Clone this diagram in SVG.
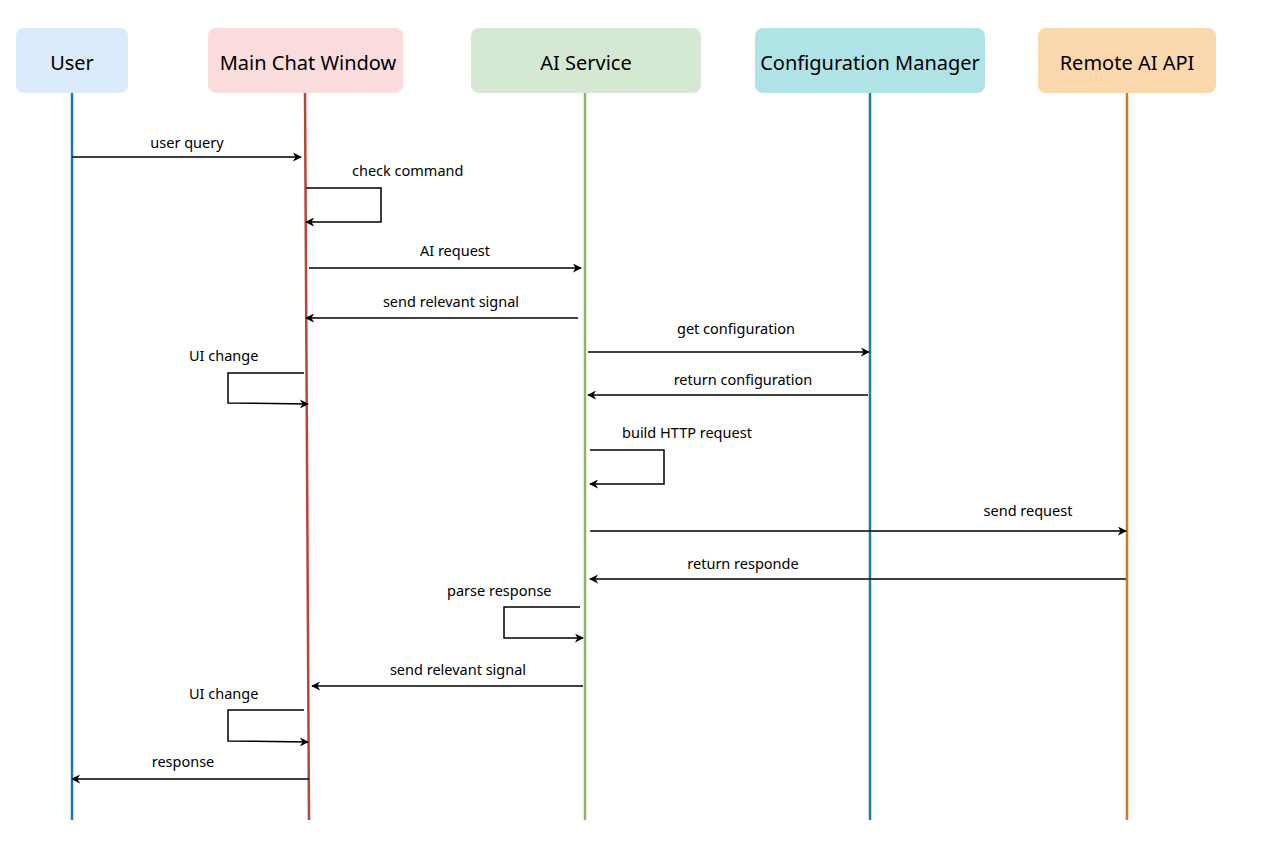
<svg xmlns="http://www.w3.org/2000/svg" width="1266" height="850" viewBox="0 0 1266 850">
<style>
.box{stroke:none}
.title{font-family:"Noto Sans","DejaVu Sans",sans-serif;font-size:20px;fill:#000;text-anchor:middle}
.lbl{font-family:"Noto Sans","DejaVu Sans",sans-serif;font-size:14.5px;fill:#000}
.msg{fill:none;stroke:#000;stroke-width:1.5;marker-end:url(#ah)}
.life{fill:none;stroke-width:2.5}
</style>
<defs>
<marker id="ah" viewBox="0 0 10 10" refX="9" refY="5" markerWidth="9" markerHeight="9" markerUnits="userSpaceOnUse" orient="auto">
<path d="M0,0 L10,5 L0,10 L3,5 z" fill="#000"/>
</marker>
</defs>
<rect width="1266" height="850" fill="#fff"/>
<g id="user">
<rect class="box" x="16" y="28" width="112" height="65" rx="8" fill="#dcebfb"/>
<text class="title" x="72" y="70">User</text>
<line class="life" x1="72" y1="93" x2="72" y2="820" stroke="#1b75bc"/>
</g>
<g id="main-chat-window">
<rect class="box" x="208" y="28" width="195" height="65" rx="8" fill="#fadcdd"/>
<text class="title" x="308" y="70">Main Chat Window</text>
<line class="life" x1="305" y1="93" x2="309" y2="820" stroke="#b5463a"/>
</g>
<g id="ai-service">
<rect class="box" x="471" y="28" width="230" height="65" rx="8" fill="#d5e8d4"/>
<text class="title" x="586" y="70">AI Service</text>
<line class="life" x1="585" y1="93" x2="585" y2="820" stroke="#86b86a"/>
</g>
<g id="configuration-manager">
<rect class="box" x="755" y="28" width="230" height="65" rx="8" fill="#b0e3e6"/>
<text class="title" x="870" y="70">Configuration Manager</text>
<line class="life" x1="870" y1="93" x2="870" y2="820" stroke="#14829a"/>
</g>
<g id="remote-ai-api">
<rect class="box" x="1038" y="28" width="178" height="65" rx="8" fill="#fad7ac"/>
<text class="title" x="1127" y="70">Remote AI API</text>
<line class="life" x1="1127" y1="93" x2="1127" y2="820" stroke="#c97c24"/>
</g>
<g id="connectors">
<path class="msg" d="M72,157 L301,157"/>
<path class="msg" d="M306,188 L381,188 L381,222 L306,222"/>
<path class="msg" d="M309,268 L581,268"/>
<path class="msg" d="M578,318 L306,318"/>
<path class="msg" d="M588,352 L869,352"/>
<path class="msg" d="M868,395 L588,395"/>
<path class="msg" d="M304,373 L228,373 L228,403 L308,404"/>
<path class="msg" d="M590,450 L664,450 L664,484 L590,484"/>
<path class="msg" d="M590,531 L1126,531"/>
<path class="msg" d="M1126,579 L590,579"/>
<path class="msg" d="M580,607 L504,607 L504,638 L583,638"/>
<path class="msg" d="M583,686 L312,686"/>
<path class="msg" d="M304,710 L228,710 L228,741 L308,742"/>
<path class="msg" d="M309,779 L72,779"/>
</g>
<g id="labels">
<text class="lbl" x="187" y="148" text-anchor="middle">user query</text>
<text class="lbl" x="352" y="176">check command</text>
<text class="lbl" x="455" y="256" text-anchor="middle">AI request</text>
<text class="lbl" x="451" y="307" text-anchor="middle">send relevant signal</text>
<text class="lbl" x="736" y="334" text-anchor="middle">get configuration</text>
<text class="lbl" x="743" y="385" text-anchor="middle">return configuration</text>
<text class="lbl" x="189" y="361">UI change</text>
<text class="lbl" x="622" y="438">build HTTP request</text>
<text class="lbl" x="1028" y="516" text-anchor="middle">send request</text>
<text class="lbl" x="743" y="569" text-anchor="middle">return responde</text>
<text class="lbl" x="447" y="596">parse response</text>
<text class="lbl" x="458" y="675" text-anchor="middle">send relevant signal</text>
<text class="lbl" x="189" y="699">UI change</text>
<text class="lbl" x="183" y="767" text-anchor="middle">response</text>
</g>
</svg>
